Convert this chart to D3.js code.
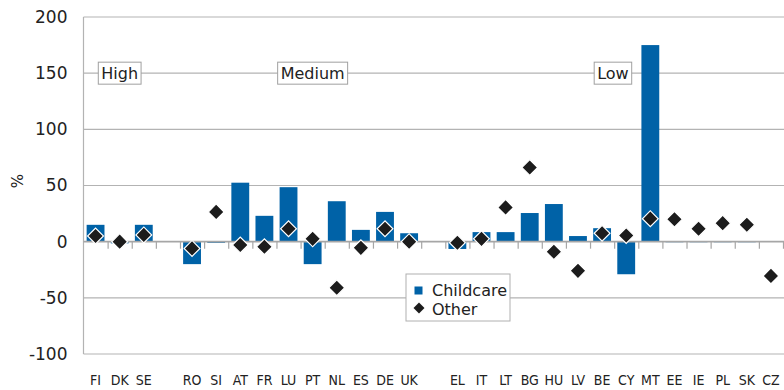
<!DOCTYPE html>
<html><head><meta charset="utf-8">
<script src="https://cdn.jsdelivr.net/npm/d3@7"></script>
<style>
body{margin:0;background:#fff;}
svg{display:block;font-family:"DejaVu Sans","Open Sans",sans-serif;}
.xl text{font-family:"DejaVu Sans Condensed","Liberation Sans Narrow","Roboto Condensed","DejaVu Sans",sans-serif;font-stretch:condensed;}
</style></head>
<body><svg id="c" width="784" height="390"></svg>
<script>
const categories = ["FI","DK","SE","gap1","RO","SI","AT","FR","LU","PT","NL","ES","DE","UK","gap2","EL","IT","LT","BG","HU","LV","BE","CY","MT","EE","IE","PL","SK","CZ"];
const childcare = [15,-1.5,15,null,-20,-1,52.5,23,48.5,-20,36,10.5,26.5,7.5,null,-6.5,8.5,8.5,25.5,33.5,5,12,-29,175,-0.5,-0.5,-0.5,-0.5,0];
const other = [5,0,6,null,-6,26.5,-3,-4.5,11.5,2.5,-41,-5.5,11.5,0,null,-1,2.5,30.5,66,-9,-26,7.5,5.5,20.5,20,11.5,16.5,15,-30.5];
const yTicks = [-100,-50,0,50,100,150,200];
const groupLabels = [{text:"High", at:"DK", off:0},{text:"Medium", at:"PT", off:0},{text:"Low", at:"BE", off:0.45}];
const seriesNames = ["Childcare","Other"];

const svg = d3.select("#c");
const L=83.5, R=783, T=17, B=354;
const x = d3.scaleBand().domain(categories).range([L,R]).paddingInner(0).paddingOuter(0);
const y = d3.scaleLinear().domain([-100,200]).range([B,T]);
const blue="#0062a7", dark="#1c1c1c", grid="#b3b3b3";

// gridlines
svg.append("g").selectAll("line").data(yTicks.filter(d=>d!==0)).join("line")
  .attr("x1",L).attr("x2",784).attr("y1",d=>y(d)).attr("y2",d=>y(d))
  .attr("stroke",grid).attr("stroke-width",1.2);
// left axis line
svg.append("line").attr("x1",L).attr("x2",L).attr("y1",T).attr("y2",B).attr("stroke",grid).attr("stroke-width",1.2);

// y labels
svg.append("g").attr("transform",`translate(${L},0)`)
  .call(d3.axisLeft(y).tickValues(yTicks).tickSize(0).tickPadding(16).tickFormat(d=>d<0?"-"+Math.abs(d):d))
  .call(g=>g.select(".domain").remove())
  .call(g=>g.selectAll("text").attr("font-size",17).attr("fill","#222").attr("font-family","DejaVu Sans, sans-serif"));

svg.append("text").attr("transform","translate(23,181) rotate(-90)").attr("text-anchor","middle")
  .attr("font-size",15).attr("fill","#222").text("%");

// group labels
const gl = svg.append("g");
groupLabels.forEach(g=>{
  const cx = x(g.at)+x.bandwidth()/2 + g.off*x.step();
  const grp = gl.append("g");
  const r = grp.append("rect");
  const t = grp.append("text").attr("x",cx).attr("y",y(150)+6).attr("text-anchor","middle")
    .attr("font-size",16).attr("fill","#222").text(g.text);
  const bb = t.node().getBBox();
  r.attr("x",bb.x-3).attr("y",y(150)-11).attr("width",bb.width+6).attr("height",22)
    .attr("fill","#fff").attr("stroke","#a0a0a0").attr("stroke-width",1);
});

// bars
const bw = x.bandwidth()*0.74;
svg.append("g").selectAll("rect").data(categories.map((c,i)=>({c,v:childcare[i]})).filter(d=>d.v!==null))
  .join("rect")
  .attr("x",d=>x(d.c)+(x.bandwidth()-bw)/2).attr("width",bw)
  .attr("y",d=>y(Math.max(0,d.v))).attr("height",d=>Math.abs(y(d.v)-y(0)))
  .attr("fill",blue);

// zero axis with boundary ticks
const xi = d3.scaleLinear().domain([0,categories.length]).range([L,R]);
svg.append("g").attr("transform",`translate(0,${y(0)})`)
  .call(d3.axisBottom(xi).tickValues(d3.range(1,categories.length+1)).tickSize(7).tickFormat(""))
  .call(g=>g.select(".domain").attr("d",`M${L},0H784`).attr("stroke","#a6a6a6").attr("stroke-width",1.6))
  .call(g=>g.selectAll(".tick line").attr("stroke","#a6a6a6").attr("stroke-width",1.2));

// diamonds
const dsym = d3.symbol().type(d3.symbolSquare).size(125);
svg.append("g").selectAll("path").data(categories.map((c,i)=>({c,v:other[i]})).filter(d=>d.v!==null))
  .join("path").attr("d",dsym)
  .attr("transform",d=>`translate(${x(d.c)+x.bandwidth()/2},${y(d.v)}) rotate(45)`)
  .attr("fill",dark).attr("stroke","#fff").attr("stroke-width",1.2);

// x labels
svg.append("g").attr("class","xl").attr("transform",`translate(0,372)`)
  .call(d3.axisBottom(x).tickSize(0).tickFormat(d=>d.startsWith("gap")?"":d))
  .call(g=>g.select(".domain").remove())
  .call(g=>g.selectAll("text").attr("font-size",14).attr("fill","#222"));

// legend
const lg = svg.append("g").attr("transform","translate(406,274)");
lg.append("rect").attr("width",104).attr("height",47).attr("fill","#fff").attr("stroke","#b0b0b0");
lg.append("rect").attr("x",8.5).attr("y",12.5).attr("width",8).attr("height",8).attr("fill",blue);
lg.append("path").attr("d",d3.symbol().type(d3.symbolSquare).size(60)).attr("transform","translate(13,34) rotate(45)").attr("fill",dark);
lg.selectAll("text.l").data(seriesNames).join("text").attr("class","l")
  .attr("x",26).attr("y",(d,i)=>22+i*19).attr("font-size",16).attr("fill","#222").text(d=>d);
</script></body></html>
